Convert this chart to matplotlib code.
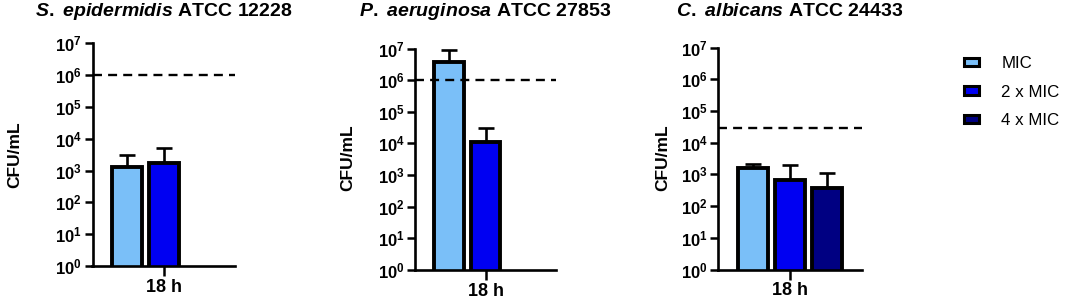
import matplotlib
matplotlib.use('Agg')
import matplotlib.pyplot as plt
from matplotlib.patches import Patch
import numpy as np

plt.rcParams['font.family'] = 'Liberation Sans'
plt.rcParams['mathtext.fontset'] = 'custom'
plt.rcParams['mathtext.rm'] = 'Liberation Sans:bold'
plt.rcParams['mathtext.bf'] = 'Liberation Sans:bold'
plt.rcParams['mathtext.it'] = 'Liberation Sans:italic:bold'

# data (CFU/mL at 18 h)
series = ['MIC', '2 x MIC', '4 x MIC']
colors = ['#7ABFF8', '#0000F2', '#000082']
species = ['S. epidermidis', 'P. aeruginosa', 'C. albicans']
strains = ['ATCC 12228', 'ATCC 27853', 'ATCC 24433']
means = [[1330, 1700, None],
         [3.7e6, 1.1e4, None],
         [1630, 645, 380]]
upper = [[3000, 5000, None],
         [9.0e6, 3.0e4, None],
         [2130, 1930, 1080]]
inoculum = [1e6, 1e6, 3e4]
xlabel = '18 h'

W, H = 1065, 300
# axes boxes in pixels: left, right, top(1e7), bottom(1e0)
boxes = [(92.5, 235, 43.3, 266),
         (415, 556, 48.5, 270),
         (718, 862, 47.7, 269.5)]
ylab_pos = [(15, 155), (348, 158), (663, 158)]

fig = plt.figure(figsize=(W/100, H/100), dpi=100)
for i in range(3):
    l, r, t, b = boxes[i]
    ax = fig.add_axes([l/W, 1-b/H, (r-l)/W, (b-t)/H])
    ax.set_yscale('log')
    for j in range(3):
        m = means[i][j]
        if m is None:
            continue
        x = j - 1
        ax.bar(x, m, width=0.8, color=colors[j], edgecolor='black', linewidth=2.8, zorder=2)
        ax.errorbar(x, m, yerr=[[0], [upper[i][j]-m]], fmt='none', ecolor='black',
                    elinewidth=1.9, capsize=5.5, capthick=1.9, zorder=1)
    ax.axhline(inoculum[i], color='black', lw=1.7, ls=(0, (3.8, 2.6)), zorder=3)
    ax.set_xlim(-1.93, 1.93)
    ax.set_ylim(1, 1e7)
    ax.set_yticks([10.0**k for k in range(8)])
    ax.set_yticklabels([r'$\mathbf{10^{%d}}$' % k for k in range(8)], fontsize=12)
    ax.yaxis.set_minor_locator(matplotlib.ticker.NullLocator())
    ax.set_xticks([0])
    ax.set_xticklabels([xlabel], fontsize=13, fontweight='bold')
    ax.tick_params(axis='y', length=5.5, width=1.8, pad=2)
    ax.tick_params(axis='x', length=7, width=1.8, pad=2)
    for s in ['top', 'right']:
        ax.spines[s].set_visible(False)
    for s in ['left', 'bottom']:
        ax.spines[s].set_linewidth(1.9)
    ax.patch.set_visible(False)
    fig.text(ylab_pos[i][0]/W, 1-ylab_pos[i][1]/H, 'CFU/mL', rotation=90, ha='center',
             va='center', fontsize=12.5, fontweight='bold')
    title = r'$\mathit{%s}$ %s' % (species[i].replace(' ', r'\ '), strains[i])
    fig.text((l+r)/2/W, 1-11/H, title, ha='center', va='center', fontsize=14, fontweight='bold')

handles = [Patch(facecolor=c, edgecolor='black', linewidth=2.2) for c in colors]
fig.legend(handles, series, loc='upper left', bbox_to_anchor=(964/W, 1-56/H),
           frameon=False, fontsize=12.2, handlelength=0.9, handleheight=0.42,
           handletextpad=1.3, labelspacing=0.8, borderaxespad=0, borderpad=0)

fig.savefig('out.png', dpi=100)
